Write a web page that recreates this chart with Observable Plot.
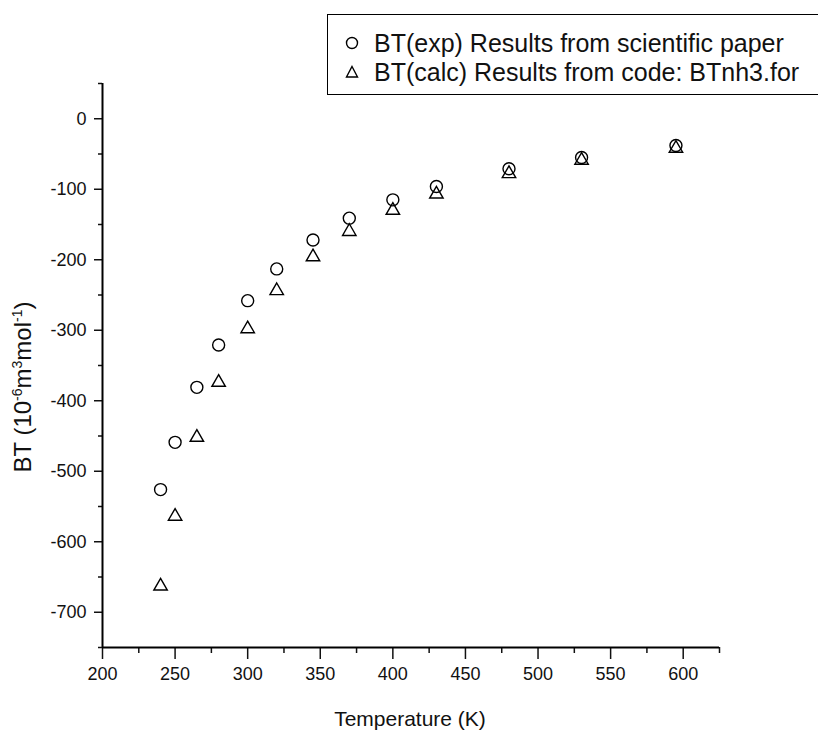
<!DOCTYPE html>
<html>
<head>
<meta charset="utf-8">
<script src="https://cdn.jsdelivr.net/npm/d3@7"></script>
<script src="https://cdn.jsdelivr.net/npm/@observablehq/plot@0.6"></script>
<style>
  body { margin: 0; background: #fff; }
  #wrap { position: relative; width: 818px; height: 733px; overflow: hidden; background: #fff; }
  #legend { position: absolute; left: 327px; top: 14px; width: 520px; height: 79px;
            border: 1.5px solid #000; background: #fff; font-family: "Liberation Sans", Arial, sans-serif;
            font-size: 25px; color: #111; }
  #legend .row { position: absolute; left: 0; height: 28px; display: flex; align-items: center; white-space: nowrap; }
  #legend .row svg { margin-left: 17px; margin-right: 15px; }
</style>
</head>
<body>
<div id="wrap"></div>
<script>
// ---- data ----
const temperature = [240, 250, 265, 280, 300, 320, 345, 370, 400, 430, 480, 530, 595];
const btExp  = [-526, -459, -381, -321, -258, -213, -172, -141, -115, -96, -71, -55, -38];
const btCalc = [-663, -564, -452, -374, -298, -244, -196, -160, -130, -107, -78, -59, -42];

const xTicks      = [200, 250, 300, 350, 400, 450, 500, 550, 600];
const xMinorTicks = [225, 275, 325, 375, 425, 475, 525, 575, 625];
const yTicks      = [0, -100, -200, -300, -400, -500, -600, -700];
const yMinorTicks = [50, -50, -150, -250, -350, -450, -550, -650, -750];

const seriesNames = ["BT(exp) Results from scientific paper", "BT(calc) Results from code: BTnh3.for"];
const xTitle = "Temperature (K)";

const expRows  = temperature.map((t, i) => ({T: t, BT: btExp[i]}));
const calcRows = temperature.map((t, i) => ({T: t, BT: btCalc[i]}));

const tickFont = '"Liberation Sans", Arial, sans-serif';

const chart = Plot.plot({
  width: 818,
  height: 733,
  marginLeft: 102,
  marginRight: 99,
  marginTop: 83,
  marginBottom: 86,
  style: {fontFamily: tickFont, fontSize: "18px", color: "#111", background: "#fff"},
  x: {domain: [200, 625], label: null},
  y: {domain: [-750, 50], label: null},
  marks: [
    Plot.axisX({ticks: xTicks, tickSize: 12, tickPadding: 8, tickFormat: d => String(d), strokeWidth: 1.5, label: null}),
    Plot.axisX({ticks: xMinorTicks, tickSize: 6, tickFormat: () => "", strokeWidth: 1.5, label: null}),
    Plot.axisY({ticks: yTicks, tickSize: 8, tickPadding: 8, tickFormat: d => String(d), strokeWidth: 1.5, label: null}),
    Plot.axisY({ticks: yMinorTicks, tickSize: 4, tickFormat: () => "", strokeWidth: 1.5, label: null}),
    Plot.ruleY([-750], {stroke: "#000", strokeWidth: 2}),
    Plot.ruleX([200], {stroke: "#000", strokeWidth: 2}),
    Plot.dot(expRows, {x: "T", y: "BT", r: 6, stroke: "#000", strokeWidth: 1.4, fill: "none", symbol: "circle"}),
    Plot.dot(calcRows, {x: "T", y: "BT", r: 5, stroke: "#000", strokeWidth: 1.4, fill: "none", symbol: "triangle"})
  ]
});

const wrap = document.getElementById("wrap");
wrap.appendChild(chart);

// axis titles as real text
const svg = d3.select(chart);
svg.append("text")
  .attr("x", 410).attr("y", 726)
  .attr("text-anchor", "middle")
  .attr("font-family", '"Liberation Sans", Arial, sans-serif')
  .attr("font-size", 21)
  .attr("fill", "#111")
  .text(xTitle);

const yt = svg.append("text")
  .attr("transform", "translate(31,387) rotate(-90)")
  .attr("text-anchor", "middle")
  .attr("font-family", '"Liberation Sans", Arial, sans-serif')
  .attr("font-size", 24)
  .attr("fill", "#111");
yt.append("tspan").text("BT (10");
yt.append("tspan").attr("dy", -9).attr("font-size", 14).text("-6");
yt.append("tspan").attr("dy", 9).text("m");
yt.append("tspan").attr("dy", -9).attr("font-size", 14).text("3");
yt.append("tspan").attr("dy", 9).text("mol");
yt.append("tspan").attr("dy", -9).attr("font-size", 14).text("-1");
yt.append("tspan").attr("dy", 9).text(")");

// legend
const legend = document.createElement("div");
legend.id = "legend";
const symbols = [
  '<svg width="14" height="14"><circle cx="7" cy="7" r="5.5" fill="none" stroke="#000" stroke-width="1.4"/></svg>',
  '<svg width="14" height="14"><path d="M7 1.5 L12.5 12 L1.5 12 Z" fill="none" stroke="#000" stroke-width="1.4"/></svg>'
];
seriesNames.forEach((name, i) => {
  const row = document.createElement("div");
  row.className = "row";
  row.style.top = (i === 0 ? 14 : 43) + "px";
  row.innerHTML = symbols[i] + '<span>' + name + '</span>';
  legend.appendChild(row);
});
wrap.appendChild(legend);
</script>
</body>
</html>
